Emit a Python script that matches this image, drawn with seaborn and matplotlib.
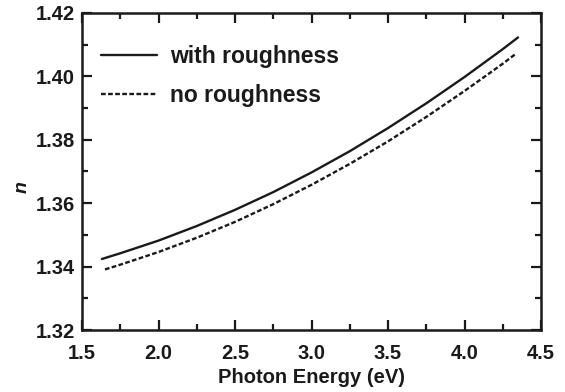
import matplotlib
matplotlib.use("Agg")
import matplotlib.pyplot as plt
import seaborn as sns
import pandas as pd
from matplotlib.ticker import MultipleLocator

# Data
energy_with = [1.63, 1.75, 2.0, 2.25, 2.5, 2.75, 3.0, 3.25, 3.5, 3.75, 4.0, 4.25, 4.35]
n_with = [1.3424, 1.3442, 1.3482, 1.3528, 1.3579, 1.3635, 1.3697, 1.3764, 1.3837, 1.3915, 1.3998, 1.4086, 1.4123]
energy_no = [1.65, 1.75, 2.0, 2.25, 2.5, 2.75, 3.0, 3.25, 3.5, 3.75, 4.0, 4.25, 4.34]
n_no = [1.3391, 1.3406, 1.3446, 1.3491, 1.3541, 1.3597, 1.3658, 1.3724, 1.3795, 1.3872, 1.3954, 1.4040, 1.4073]
series_labels = ["with roughness", "no roughness"]
x_ticks = [1.5, 2.0, 2.5, 3.0, 3.5, 4.0, 4.5]
y_ticks = [1.32, 1.34, 1.36, 1.38, 1.40, 1.42]

df = pd.concat([
    pd.DataFrame({"E": energy_with, "n": n_with, "s": series_labels[0]}),
    pd.DataFrame({"E": energy_no, "n": n_no, "s": series_labels[1]}),
])

sns.set_style("ticks")
plt.rcParams['font.family'] = ['Liberation Sans', 'DejaVu Sans']
plt.rcParams['font.weight'] = 'bold'

ink = "#1a1a1a"
fig = plt.figure(figsize=(5.65, 3.92), dpi=100)
ax = fig.add_axes([82/565, 1 - 330/392, (541-82)/565, (330-13)/392])

sns.lineplot(data=df, x="E", y="n", hue="s", style="s",
             palette={series_labels[0]: ink, series_labels[1]: ink},
             dashes={series_labels[0]: "", series_labels[1]: (2.0, 1.0)},
             linewidth=1.7, ax=ax, sort=False)

ax.set_xlim(1.5, 4.5)
ax.set_ylim(1.32, 1.42)
ax.set_xticks(x_ticks)
ax.set_yticks(y_ticks)
ax.set_xticklabels([f"{v:.1f}" for v in x_ticks])
ax.set_yticklabels([f"{v:.2f}" for v in y_ticks])
ax.xaxis.set_minor_locator(MultipleLocator(0.25))
ax.yaxis.set_minor_locator(MultipleLocator(0.01))
ax.tick_params(which='both', direction='in', top=True, right=True, width=1.6, colors=ink,
               labelsize=14.5)
ax.tick_params(which='major', length=7)
ax.tick_params(axis='x', which='major', pad=10)
ax.tick_params(axis='y', which='major', pad=5)
ax.tick_params(which='minor', length=4)
for sp in ax.spines.values():
    sp.set_linewidth(1.8)
    sp.set_color(ink)
    sp.set_visible(True)

ax.set_xlabel("Photon Energy (eV)", fontsize=14.5, fontweight='bold', labelpad=4, color=ink)
ax.set_ylabel("n", fontsize=14, fontweight='bold', style='italic', color=ink)
ax.yaxis.set_label_coords(-0.112, 0.45)

leg = ax.legend(frameon=False, loc='upper left', bbox_to_anchor=(0.041, 0.899),
                fontsize=16.5, handlelength=2.45, handletextpad=0.55, labelspacing=0.68,
                borderaxespad=0.0, borderpad=0.0)
for t in leg.get_texts():
    t.set_fontweight('bold')
    t.set_color(ink)

fig.savefig("out.png", dpi=100)
